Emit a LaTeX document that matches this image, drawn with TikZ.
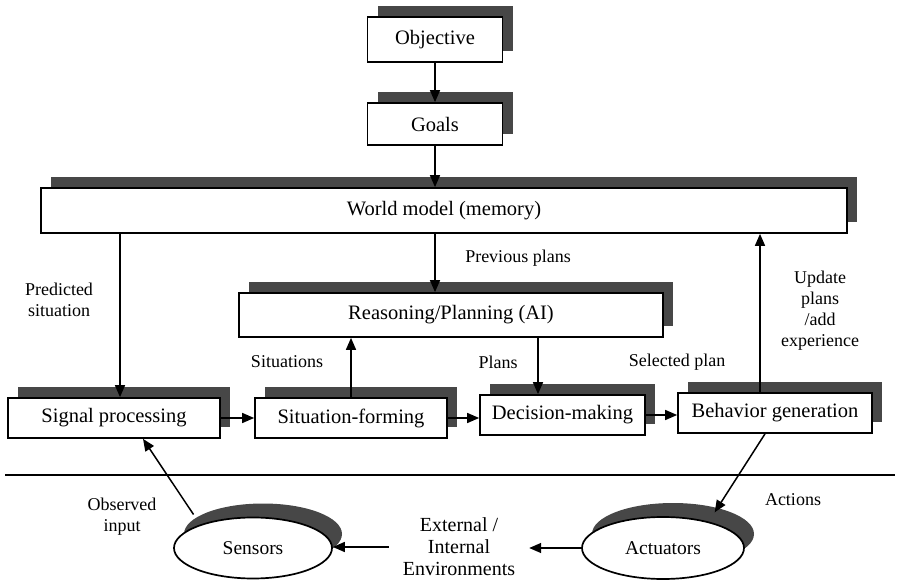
\documentclass[tikz,border=0pt]{standalone}
\usepackage{fontspec}
\setmainfont{Liberation Serif}
\usetikzlibrary{shadows,arrows.meta,shapes.geometric}
\newcommand{\myboxfont}{\fontsize{20.5}{24}\selectfont}
\newcommand{\mylabfont}{\fontsize{18}{21}\selectfont}
\newcommand{\myellfont}{\fontsize{19.5}{21}\selectfont}
\newcommand{\myenvfont}{\fontsize{20}{22}\selectfont}
\begin{document}
\begin{tikzpicture}[x=1pt,y=-1pt,
  shd/.style={drop shadow={shadow xshift=10pt,shadow yshift=11pt,fill=black!72,opacity=1}},
  eshd/.style={drop shadow={shadow xshift=10pt,shadow yshift=14pt,fill=black!72,opacity=1}},
  bx/.style={draw, line width=1.7pt, fill=white, inner sep=0pt, font=\myboxfont, shd},
  ell/.style={ellipse, draw, line width=1.7pt, fill=white, inner sep=0pt, font=\myellfont, eshd},
  lab/.style={font=\mylabfont, align=center, inner sep=0pt},
  arr/.style={line width=1.5pt, -{Triangle[length=12pt,width=10pt]}}]
\useasboundingbox (0,0) rectangle (898,580);

% boxes
\node[bx, minimum width=135pt, minimum height=45pt] (obj) at (435,39.5) {Objective};
\node[bx, minimum width=135pt, minimum height=42pt] (goals) at (435,124) {Goals};
\node[bx, minimum width=806pt, minimum height=45pt] (world) at (444,210.5) {World model (memory)};
\node[bx, minimum width=424pt, minimum height=44pt] (reason) at (451,315) {Reasoning/Planning (AI)};
\node[bx, minimum width=212pt, minimum height=40pt] (sig) at (114,418) {Signal processing};
\node[bx, minimum width=192pt, minimum height=40pt] (sit) at (351,418) {Situation-forming};
\node[bx, minimum width=165pt, minimum height=40pt] (dec) at (562.5,415) {Decision-making};
\node[bx, minimum width=194pt, minimum height=40pt] (beh) at (775,413) {Behavior generation};

% ellipses
\node[ell, minimum width=158pt, minimum height=61pt] (sens) at (253,548) {Sensors};
\node[ell, minimum width=162pt, minimum height=62pt] (act) at (663,548) {Actuators};
\node[lab, font=\myenvfont, minimum width=140pt] (env) at (459,547) {External /\\Internal\\Environments};

% separator
\draw[line width=1.6pt] (5,475) -- (895,475);

% connectors
\draw[arr] (obj.south) -- (goals.north);
\draw[arr] (goals.south) -- (goals.south |- world.north);
\draw[arr] ([xshift=6pt]sig.north |- world.south) -- ([xshift=6pt]sig.north);
\draw[arr] ([xshift=-16pt]reason.north |- world.south) -- ([xshift=-16pt]reason.north);
\draw[arr] (sit.north) -- (sit.north |- reason.south);
\draw[arr] ([xshift=-24.5pt]dec.north |- reason.south) -- ([xshift=-24.5pt]dec.north);
\draw[arr] ([xshift=-15pt]beh.north) -- ([xshift=-15pt]beh.north |- world.south);
\draw[arr] (sig.east) -- (sig.east -| sit.west);
\draw[arr] (sit.east) -- (sit.east -| dec.west);
\draw[arr] (dec.east) -- (dec.east -| beh.west);
\draw[arr, shorten <=12pt] (sens.156) -- ([xshift=29pt]sig.south);
\draw[arr, shorten >=11pt] ([xshift=-10pt]beh.south) -- (act.30);
\draw[arr] (env.west) -- (env.west -| sens.east);
\draw[arr] (act.west) -- (act.west -| env.east);

% labels
\node[lab] (lpred) at (59,300) {Predicted\\situation};
\node[lab] (lprev) at (518,258) {Previous plans};
\node[lab] (lsitu) at (287,362) {Situations};
\node[lab] (lplans) at (498,362) {Plans};
\node[lab] (lsel) at (677,362) {Selected plan};
\node[lab] (lupd) at (820,311) {Update\\plans\\/add\\experience};
\node[lab] (lobs) at (122,517) {Observed\\input};
\node[lab] (lact) at (793,500) {Actions};
\end{tikzpicture}
\end{document}
